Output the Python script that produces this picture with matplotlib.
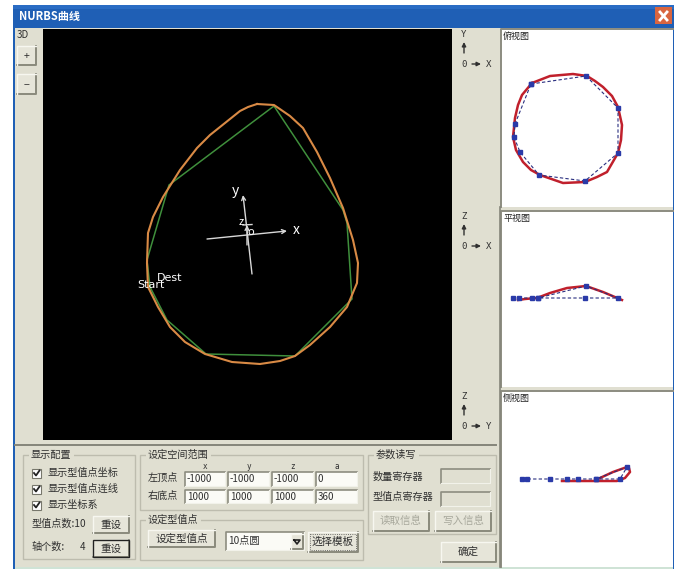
import matplotlib
matplotlib.use("Agg")
import matplotlib.pyplot as plt
from matplotlib.patches import Rectangle

plt.rcParams['font.family'] = ['Noto Sans CJK SC', 'DejaVu Sans']

# curve
curve_x = [257, 274, 290, 303, 317, 330, 343, 353, 358, 357, 347, 330, 310, 295, 280, 260, 232, 205, 185, 170, 158, 148, 147, 148, 153, 163, 180, 197, 210, 220, 240, 248, 257]
curve_y = [104, 105, 116, 128, 152, 178, 208, 240, 263, 283, 307, 327, 345, 356, 361, 364, 362, 354, 342, 327, 307, 287, 263, 233, 217, 197, 170, 148, 135, 127, 111, 107, 104]
poly_x = [274, 343, 347, 352, 295, 206, 167, 150, 147, 169, 173, 274]
poly_y = [106, 210, 223, 299, 356, 354, 320, 287, 260, 185, 182, 106]

# top view
top_curve_x = [532, 550, 573, 587, 595, 603, 612, 618, 622, 621, 618, 607, 597, 585, 563, 540, 531, 523, 516, 513, 515, 518, 522, 532]
top_curve_y = [83, 76, 74, 76, 81, 87, 96, 107, 125, 140, 153, 172, 177, 182, 183, 175, 170, 162, 150, 137, 118, 105, 95, 83]
top_pts_x = [531, 586, 618, 618, 585, 539, 520, 514, 515, 531]
top_pts_y = [84, 76, 108, 153, 181, 175, 152, 137, 124, 84]

# front view
front_curve_x = [518, 525, 537, 550, 567, 586, 603, 622]
front_curve_y = [300, 299, 298, 293, 288, 286, 292, 300]
front_pts_x = [513, 519, 532, 538, 586, 618, 585, 538]
front_pts_y = [298, 298, 298, 298, 286, 298, 298, 298]

# side view
side_curve_x = [562, 583, 617, 625, 630, 629, 627, 613, 600]
side_curve_y = [481, 481, 481, 478, 472, 468, 467, 472, 478]
side_pts_x = [522, 527, 550, 567, 578, 596, 620, 627, 596]
side_pts_y = [479, 479, 479, 479, 479, 479, 479, 467, 479]

# texts of the dialog
check_labels = ['显示型值点坐标', '显示型值点连线', '显示坐标系']
column_labels = ['x', 'y', 'z', 'a']
top_row = ['-1000', '-1000', '-1000', '0']
bottom_row = ['1000', '1000', '1000', '360']

BG = '#e0dfd1'
BLUE = '#1f5fb5'
TEXT = '#303030'

fig = plt.figure(figsize=(6.8, 5.69), dpi=100, facecolor='white')
ax = fig.add_axes([0, 0, 1, 1])
ax.set_xlim(0, 680)
ax.set_ylim(569, 0)
ax.axis('off')


def rect(x0, y0, x1, y1, color, z=1):
    ax.add_patch(Rectangle((x0, y0), x1 - x0, y1 - y0, facecolor=color, edgecolor='none', zorder=z))


def label(x, y, s, size=7.3, color=TEXT, ha='left', **kw):
    ax.text(x, y, s, fontsize=size, color=color, ha=ha, va='center', zorder=8, **kw)


def button(x0, y0, x1, y1, s, color=TEXT, default=False):
    rect(x0, y0, x1, y1, '#e6e5d9', 3)
    ax.plot([x0, x1, x1], [y1, y1, y0], color='#8a8a7c', lw=1.4, zorder=4)
    ax.plot([x0, x0, x1], [y1, y0, y0], color='#f7f7f0', lw=1, zorder=4)
    if default:
        ax.add_patch(Rectangle((x0, y0), x1 - x0, y1 - y0, fill=False, edgecolor='#222222', lw=1, zorder=5))
    label((x0 + x1) / 2, (y0 + y1) / 2, s, size=7.6, color=color, ha='center')


def field(x0, y0, x1, y1, s='', color='#fbfbf6'):
    rect(x0, y0, x1, y1, color, 3)
    ax.plot([x0, x0, x1], [y1, y0, y0], color='#8d8d80', lw=1.2, zorder=4)
    ax.plot([x0, x1, x1], [y1, y1, y0], color='#f2f2ea', lw=0.8, zorder=4)
    if s:
        label(x0 + 2, (y0 + y1) / 2, s, size=7)


def group(x0, y0, x1, y1, s):
    ax.add_patch(Rectangle((x0, y0), x1 - x0, y1 - y0, fill=False, edgecolor='#bdbcae', lw=1, zorder=2))
    ax.text(x0 + 8, y0, s, fontsize=7.3, color=TEXT, va='center', zorder=8,
            bbox=dict(facecolor=BG, edgecolor='none', pad=1.5))


# window frame
rect(13, 5, 674, 569, BLUE)
rect(15, 28, 673, 567, BG)
rect(15, 567, 673, 569, '#cfe3d6')
rect(13, 5, 674, 9, '#2a6cc4')
label(19, 16, 'NURBS曲线', size=8, color='white', fontweight='bold')
rect(655, 7, 672, 24, '#d9653f', 3)
ax.plot([660, 667], [12, 20], color='white', lw=2, zorder=4)
ax.plot([667, 660], [12, 20], color='white', lw=2, zorder=4)

# 3D panel
label(17, 35, '3D', size=7)
button(17, 46, 36, 65, '+')
button(17, 74, 36, 94, '−')
rect(43, 29, 452, 440, 'black')
ax.plot(poly_x, poly_y, color='#3f8f3c', lw=1.1, zorder=5)
ax.plot(curve_x, curve_y, color='#d98a45', lw=1.5, zorder=6)
for start, end in [((207, 239), (287, 231)), ((252, 274), (243, 195)), ((247, 245), (247, 225))]:
    ax.annotate('', xy=end, xytext=start, zorder=6,
                arrowprops=dict(arrowstyle='->', color='#d8d8d8', lw=1, mutation_scale=7, shrinkA=0, shrinkB=0))
ax.plot([243, 252], [225, 224.5], color='#d8d8d8', lw=1, zorder=6)
label(235, 191, 'y', size=10, color='white', ha='center')
label(296, 230, 'x', size=10, color='white', ha='center')
label(241, 222, 'z', size=8, color='white', ha='center')
label(251, 232, 'o', size=8, color='white', ha='center')
label(157, 278, 'Dest', size=8, color='white', family='DejaVu Sans')
label(137, 285, 'Start', size=8, color='white', family='DejaVu Sans')

# side views
views = [(29, 207, '俯视图', 'Y', 'X'), (211, 387, '平视图', 'Z', 'X'), (391, 567, '侧视图', 'Z', 'Y')]
for y0, y1, name, up, right in views:
    rect(501, y0, 673, y1, 'white')
    ax.plot([501, 501, 673], [y1, y0, y0], color='#8c8c80', lw=1.4, zorder=2)
    label(503, y0 + 7, name, size=6.5, color='#222222')
    label(464, y0 + 5, up, size=6.5, family='DejaVu Sans Mono', ha='center')
    ax.annotate('', xy=(464, y0 + 13), xytext=(464, y0 + 24), zorder=6,
                arrowprops=dict(arrowstyle='-|>', color='#303030', lw=1, mutation_scale=6, shrinkA=0, shrinkB=0))
    label(464, y0 + 35, '0', size=6.5, family='DejaVu Sans Mono', ha='center')
    ax.annotate('', xy=(481, y0 + 35), xytext=(472, y0 + 35), zorder=6,
                arrowprops=dict(arrowstyle='-|>', color='#303030', lw=1, mutation_scale=6, shrinkA=0, shrinkB=0))
    label(489, y0 + 35, right, size=6.5, family='DejaVu Sans Mono', ha='center')

for cx, cy, px, py in [(top_curve_x, top_curve_y, top_pts_x, top_pts_y),
                       (front_curve_x, front_curve_y, front_pts_x, front_pts_y),
                       (side_curve_x, side_curve_y, side_pts_x, side_pts_y)]:
    ax.plot(cx, cy, color='#c0202c', lw=1.8, zorder=5)
    ax.plot(px, py, color='#2a2f80', lw=0.8, ls=(0, (3, 2)), zorder=6)
    ax.plot(px, py, ls='none', marker='s', ms=2.8, color='#2a3aa8', zorder=7)

# lower controls
ax.plot([15, 496], [445, 445], color='#85857a', lw=1.4, zorder=2)
ax.plot([500, 500], [207, 567], color='#85857a', lw=1.2, zorder=2)

group(23, 455, 135, 559, '显示配置')
for i, s in enumerate(check_labels):
    y = 473 + i * 16
    rect(32, y - 4.5, 41, y + 4.5, 'white', 3)
    ax.add_patch(Rectangle((32, y - 4.5), 9, 9, fill=False, edgecolor='#77776c', lw=0.8, zorder=4))
    ax.plot([34, 36, 39.5], [y, y + 2.5, y - 2.5], color='#222222', lw=1.3, zorder=5)
    label(48, y, s)
label(32, 524, '型值点数:10')
button(93, 516, 129, 533, '重设')
label(32, 547, '轴个数:')
label(82, 547, '4', size=7, ha='center')
button(93, 540, 129, 557, '重设', default=True)

group(140, 455, 363, 510, '设定空间范围')
label(148, 478, '左顶点')
label(148, 496, '右底点')
field_left = [185, 228, 272, 316]
field_right = [225, 269, 313, 357]
for i, name in enumerate(column_labels):
    label((field_left[i] + field_right[i]) / 2, 466, name, size=5.5, ha='center', family='DejaVu Sans Mono')
    field(field_left[i], 472, field_right[i], 486, top_row[i])
    field(field_left[i], 490, field_right[i], 503, bottom_row[i])

group(140, 520, 363, 560, '设定型值点')
button(148, 530, 215, 547, '设定型值点')
field(226, 532, 304, 550, '')
label(228, 541, '10点圆')
button(291, 534, 303, 549, '')
ax.plot([294, 297, 300, 294], [540, 544, 540, 540], color='#222222', lw=1.2, zorder=6)
button(308, 532, 358, 552, '选择模板')
ax.add_patch(Rectangle((310, 534), 46, 16, fill=False, edgecolor='#444444', lw=0.6, ls=':', zorder=6))

group(368, 455, 496, 534, '参数读写')
label(373, 477, '数量寄存器')
label(373, 497, '型值点寄存器')
field(441, 469, 490, 483, color=BG)
field(441, 492, 490, 506, color=BG)
button(373, 511, 429, 531, '读取信息', color='#a8a89c')
button(435, 511, 491, 531, '写入信息', color='#a8a89c')
button(441, 542, 496, 562, '确定')

fig.savefig('out.png', dpi=100)
